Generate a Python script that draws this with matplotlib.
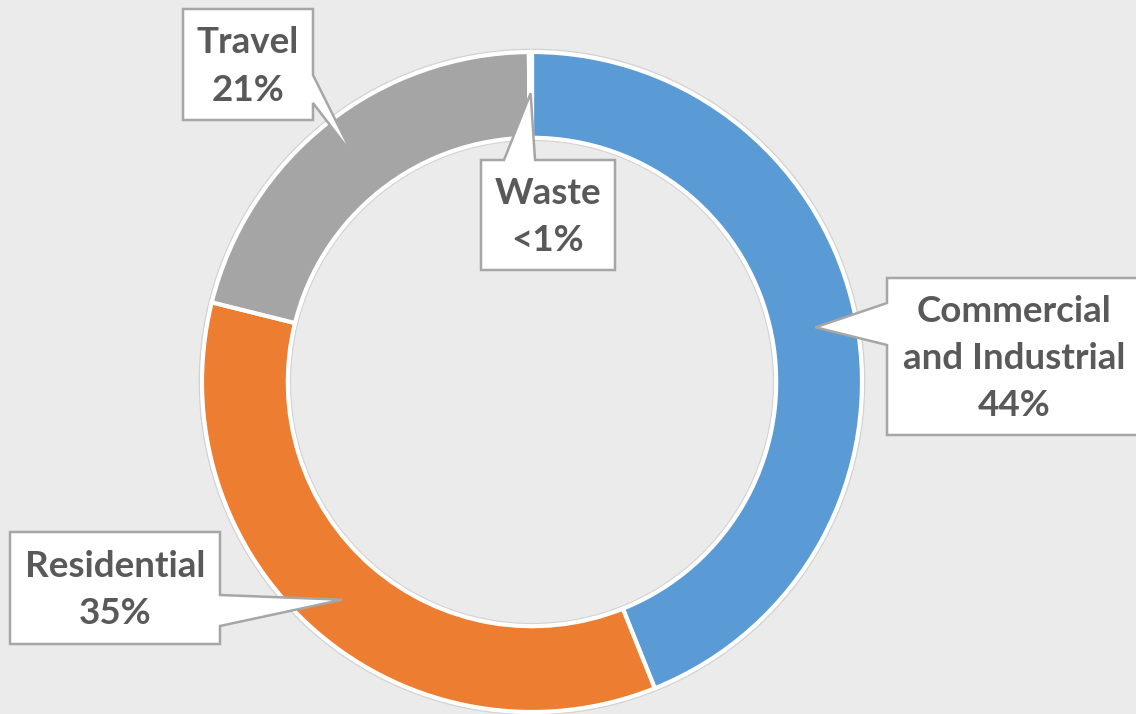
import numpy as np
import matplotlib.pyplot as plt
from matplotlib.patches import Polygon, Circle

# data
categories = ['Commercial\nand Industrial', 'Residential', 'Travel', 'Waste']
values = [44, 35, 21, 0.15]
pct_labels = ['44%', '35%', '21%', '<1%']
colors = ['#5B9BD5', '#ED7D31', '#A5A5A5', '#FFC000']

W, H = 1136, 714
CX, CY, R = 532, 382, 330   # pie centre / radius in pixels
BG = '#EBEBEB'
TXT = '#595959'


def px(x, y):
    # pixel position (from top-left) -> data coords of the pie axes
    return ((x - CX) / R, (CY - y) / R)


fig = plt.figure(figsize=(W / 100, H / 100), dpi=100, facecolor=BG)
ax = fig.add_axes([0, 0, 1, 1])
ax.set_facecolor(BG)

# faint shadow ring just outside the donut
ax.add_patch(Circle((0, 0), 1 + 2.5 / R, facecolor='none', edgecolor='#D2D2D2', linewidth=1.2))
ax.add_patch(Circle((0, 0), 0.74 - 2.5 / R, facecolor='none', edgecolor='#D2D2D2', linewidth=1.0))
ax.pie(values, colors=colors, startangle=90, counterclock=False, radius=1,
       wedgeprops=dict(width=0.26, edgecolor='white', linewidth=3))
ax.set_xlim(-CX / R, (W - CX) / R)
ax.set_ylim(-(H - CY) / R, CY / R)
ax.set_aspect('equal')
ax.axis('off')

# mid angles of the slices -> callout tips on the middle of the ring
total = sum(values)
cum = np.cumsum([0] + values)
mid = 90 - (cum[:-1] + np.array(values) / 2) / total * 360
tips = [(0.875 * np.cos(np.radians(a)), 0.875 * np.sin(np.radians(a))) for a in mid]

# callout boxes: (left, top, right, bottom) in pixels, side of pointer, base span
boxes = [
    ((887, 278, 1140, 435), 'left', (303, 345)),
    ((10, 532, 220, 644), 'right', (595, 626)),
    ((183, 9, 313, 120), 'right', (75, 103)),
    ((481, 160, 615, 270), 'top', (504, 535)),
]

for i, ((l, t, r, b), side, (b1, b2)) in enumerate(boxes):
    tip = tips[i]
    if side == 'left':
        pts = [px(l, t), px(r, t), px(r, b), px(l, b), px(l, b2), tip, px(l, b1)]
    elif side == 'right':
        pts = [px(l, t), px(r, t), px(r, b1), tip, px(r, b2), px(r, b), px(l, b)]
    else:
        pts = [px(l, t), px(b1, t), tip, px(b2, t), px(r, t), px(r, b), px(l, b)]
    ax.add_patch(Polygon(pts, closed=True, facecolor='white', edgecolor='#A6A6A6',
                         linewidth=1.8, zorder=5, clip_on=False))
    tx, ty = px((l + min(r, W)) / 2 + (3 if i == 0 else 0), (t + b) / 2 + 2)
    ax.text(tx, ty, categories[i] + '\n' + pct_labels[i], ha='center', va='center',
            fontsize=26.5, fontweight='bold', color=TXT, family=['Lato', 'DejaVu Sans'],
            linespacing=1.52, zorder=6)

fig.savefig('out.png', dpi=100, facecolor=BG)
